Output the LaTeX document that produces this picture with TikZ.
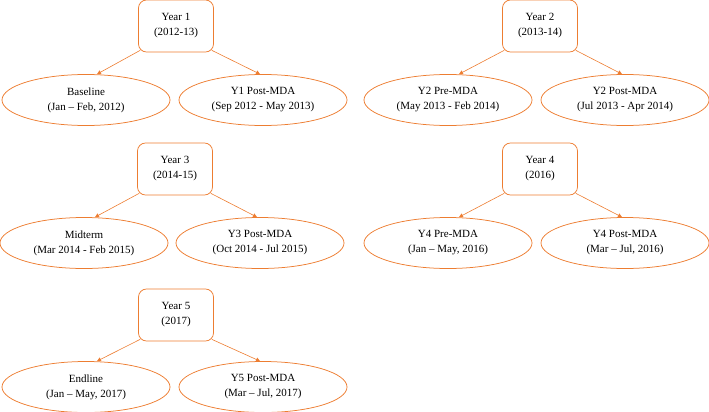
\documentclass[tikz,border=0pt]{standalone}
\usepackage{fontspec}
\setmainfont{Liberation Serif}
\usepackage{tikz}
\usetikzlibrary{shapes.geometric,arrows.meta}
\definecolor{mdaorange}{RGB}{237,125,49}
\tikzstyle{yrbox}=[draw=mdaorange,line width=0.75pt,rounded corners=8pt,minimum width=75pt,minimum height=52pt,align=center,inner sep=0pt,font=\fontsize{11}{15}\selectfont]
\tikzstyle{period}=[draw=mdaorange,line width=0.75pt,ellipse,minimum width=168pt,minimum height=51pt,align=center,inner sep=0pt,font=\fontsize{11}{15}\selectfont]
\tikzstyle{link}=[draw=mdaorange,line width=0.6pt,-{Triangle[length=4pt,width=4pt]}]

\begin{document}
\begin{tikzpicture}[x=1pt,y=-1pt]
\useasboundingbox (0,0) rectangle (709,412);
% year 1
\node[yrbox] (yr1) at (176,26) {Year 1\\(2012-13)};
\node[period] (base) at (86,100) {Baseline\\(Jan -- Feb, 2012)};
\node[period] (post1) at (263,100) {Y1 Post-MDA\\(Sep 2012 - May 2013)};
\draw[link] ([shift={(2pt,2pt)}]yr1.south west)--([xshift=11pt]base.north);
\draw[link] ([shift={(-2pt,2pt)}]yr1.south east)--([xshift=-3pt]post1.north);
% year 2
\node[yrbox] (yr2) at (540,26) {Year 2\\(2013-14)};
\node[period] (pre2) at (448,100) {Y2 Pre-MDA\\(May 2013 - Feb 2014)};
\node[period] (post2) at (625,100) {Y2 Post-MDA\\(Jul 2013 - Apr 2014)};
\draw[link] ([shift={(2pt,2pt)}]yr2.south west)--([xshift=11pt]pre2.north);
\draw[link] ([shift={(-2pt,2pt)}]yr2.south east)--([xshift=-3pt]post2.north);
% year 3
\node[yrbox] (yr3) at (175,169) {Year 3\\(2014-15)};
\node[period] (mid) at (84,243) {Midterm\\(Mar 2014 - Feb 2015)};
\node[period] (post3) at (260,243) {Y3 Post-MDA\\(Oct 2014 - Jul 2015)};
\draw[link] ([shift={(2pt,2pt)}]yr3.south west)--([xshift=11pt]mid.north);
\draw[link] ([shift={(-2pt,2pt)}]yr3.south east)--([xshift=-3pt]post3.north);
% year 4
\node[yrbox] (yr4) at (540,169) {Year 4\\(2016)};
\node[period] (pre4) at (448,243) {Y4 Pre-MDA\\(Jan -- May, 2016)};
\node[period] (post4) at (625,243) {Y4 Post-MDA\\(Mar -- Jul, 2016)};
\draw[link] ([shift={(2pt,2pt)}]yr4.south west)--([xshift=11pt]pre4.north);
\draw[link] ([shift={(-2pt,2pt)}]yr4.south east)--([xshift=-3pt]post4.north);
% year 5
\node[yrbox] (yr5) at (176,315) {Year 5\\(2017)};
\node[period] (end) at (86,387) {Endline\\(Jan -- May, 2017)};
\node[period] (post5) at (263,387) {Y5 Post-MDA\\(Mar -- Jul, 2017)};
\draw[link] ([shift={(2pt,2pt)}]yr5.south west)--([xshift=11pt]end.north);
\draw[link] ([shift={(-2pt,2pt)}]yr5.south east)--([xshift=-3pt]post5.north);
\end{tikzpicture}
\end{document}
